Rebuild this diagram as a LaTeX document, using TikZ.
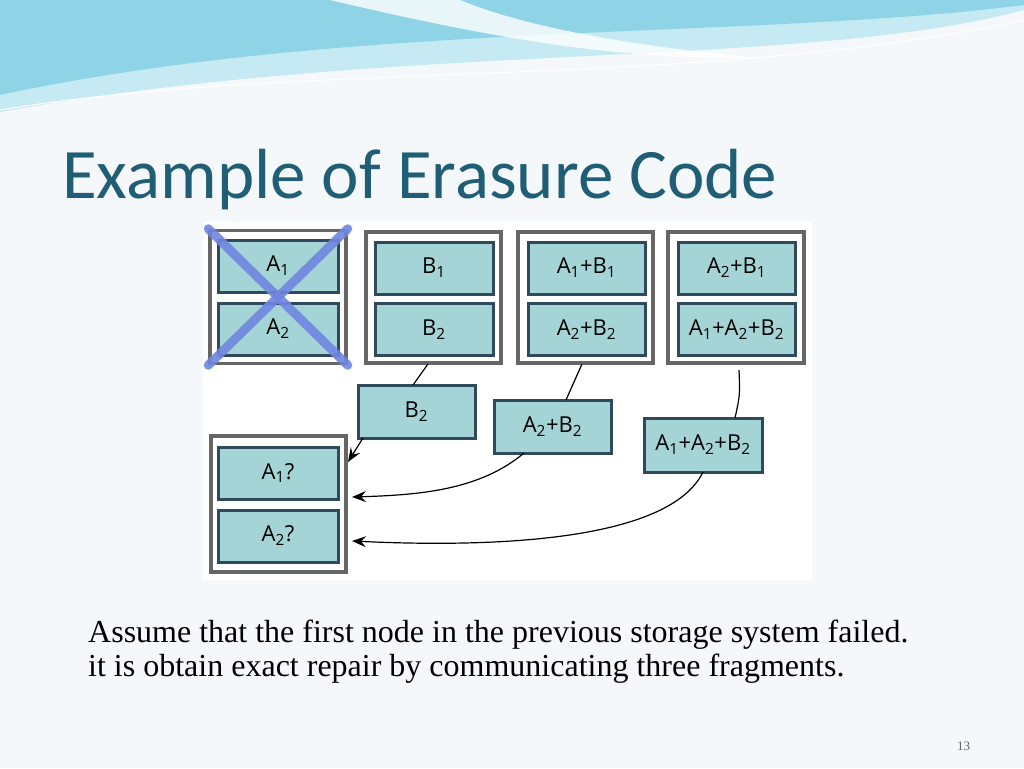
\documentclass[tikz,border=0pt]{standalone}
\usepackage{fontspec}
\setmainfont{Liberation Serif}
\newfontfamily\titlefont{Carlito}
\newfontfamily\boxfont{Open Sans}
\usetikzlibrary{arrows.meta}
\definecolor{slidebg}{HTML}{F5F8FA}
\definecolor{titlec}{HTML}{1F5E74}
\definecolor{cellfill}{HTML}{A5D4D6}
\definecolor{celldraw}{HTML}{2E4A5C}
\definecolor{outerc}{HTML}{666666}
\definecolor{crossc}{HTML}{6F86E0}
\definecolor{wavea}{HTML}{8FD3E6}
\definecolor{waveb}{HTML}{C6EAF3}
\tikzset{
 outerbox/.style={draw=outerc,line width=3.5pt,fill=white},
 cell/.style={draw=celldraw,line width=3pt,fill=cellfill},
 lab/.style={font=\boxfont\fontsize{22}{25}\selectfont},
 conn/.style={line width=1.2pt,black},
 arr/.style={conn,-{Stealth[length=14pt,width=11pt,inset=5pt]}}
}
\newcommand{\subn}[1]{\textsubscript{#1}}
\begin{document}
\begin{tikzpicture}[x=1pt,y=-1pt]
\useasboundingbox (0,0) rectangle (1024,768);
\fill[slidebg] (0,0) rectangle (1024,768);
% top waves
\fill[waveb] (0,0) -- (1024,0) -- (1024,10) .. controls (800,70) and (400,40) .. (0,112) -- cycle;
\fill[wavea] (0,0) -- (1024,0) -- (1024,5) .. controls (750,40) and (350,20) .. (0,95) -- cycle;
\fill[white,opacity=0.8] (330,0) .. controls (500,40) and (620,60) .. (760,58) .. controls (620,45) and (520,25) .. (460,0) -- cycle;
\draw[white,line width=1pt] (0,110) .. controls (300,60) and (700,90) .. (1024,20);
% title
\node[anchor=base west,text=titlec,font=\titlefont\fontsize{71}{73}\selectfont,inner sep=0] (title) at (62,198) {Example of Erasure Code};
% diagram background
\fill[white] (203,222) rectangle (812,580);
% outer nodes
\node[outerbox,minimum width=136pt,minimum height=133pt] (n1) at (278,297) {};
\node[outerbox,minimum width=135pt,minimum height=131pt] (n2) at (433.5,297.5) {};
\node[outerbox,minimum width=135pt,minimum height=131pt] (n3) at (585.5,297.5) {};
\node[outerbox,minimum width=136pt,minimum height=131pt] (n4) at (736,297.5) {};
\node[outerbox,minimum width=135pt,minimum height=136pt] (n5) at (278.5,504) {};
\tikzset{cellsz/.style={cell,lab,minimum width=118pt,minimum height=52pt,inner sep=0}}
\node[cellsz,minimum width=120pt] (a1) at (278,266) {A\subn{1}};
\node[cellsz,minimum width=120pt] (a2) at (278,329) {A\subn{2}};
\node[cellsz] (b1) at (434,268) {B\subn{1}};
\node[cellsz] (b2) at (434,329.5) {B\subn{2}};
\node[cellsz,minimum width=117pt] (c1) at (586.5,268) {A\subn{1}+B\subn{1}};
\node[cellsz,minimum width=117pt] (c2) at (586.5,329.5) {A\subn{2}+B\subn{2}};
\node[cellsz,minimum width=117pt] (d1) at (736.5,268) {A\subn{2}+B\subn{1}};
\node[cellsz,minimum width=117pt] (d2) at (736.5,329.5) {A\subn{1}+A\subn{2}+B\subn{2}};
\node[cellsz,minimum width=120pt] (r1) at (278,473) {A\subn{1}?};
\node[cellsz,minimum width=120pt] (r2) at (278,536) {A\subn{2}?};
% transferred fragments
\node[cellsz,minimum width=117pt,minimum height=53pt] (t1) at (416.5,411.5) {B\subn{2}};
\node[cellsz,minimum width=117pt,minimum height=53pt] (t2) at (552.5,426.5) {A\subn{2}+B\subn{2}};
\node[cellsz,minimum width=118pt,minimum height=54pt] (t3) at (703,445) {A\subn{1}+A\subn{2}+B\subn{2}};
% cross
\draw[crossc,line width=9pt,opacity=0.9,line cap=round] (n1.north west) -- (n1.south east);
\draw[crossc,line width=9pt,opacity=0.9,line cap=round] (n1.north east) -- (n1.south west);
% connectors
\coordinate (p2) at (428,364);
\coordinate (q2) at (413,385);
\coordinate (p3) at (582,364);
\coordinate (q3) at (566,400);
\coordinate (p4) at (739,370);
\coordinate (q4) at (735,418);
\coordinate (s1) at (363,438);
\coordinate (e1) at (348,462);
\coordinate (s2) at (524,453);
\coordinate (e2) at (352,497);
\coordinate (s3) at (703,472);
\coordinate (e3) at (352,541);
\draw[conn] (p2) -- (q2);
\draw[conn] (p3) -- (q3);
\draw[conn] (p4) .. controls (740,395) .. (q4);
\draw[arr] (s1) -- (e1);
\draw[arr] (s2) .. controls (480,490) and (420,495) .. (e2);
\draw[arr] (s3) .. controls (670,540) and (500,548) .. (e3);
% body text
\node[anchor=base west,inner sep=0,font=\fontsize{32}{38}\selectfont] (l1) at (88,642) {Assume that the first node in the previous storage system failed.};
\node[anchor=base west,inner sep=0,font=\fontsize{32}{38}\selectfont] (l2) at (88,676) {it is obtain exact repair by communicating three fragments.};
\node[anchor=base west,inner sep=0,text=black!60,font=\fontsize{13}{15}\selectfont] (pg) at (957,750) {13};
\end{tikzpicture}
\end{document}
